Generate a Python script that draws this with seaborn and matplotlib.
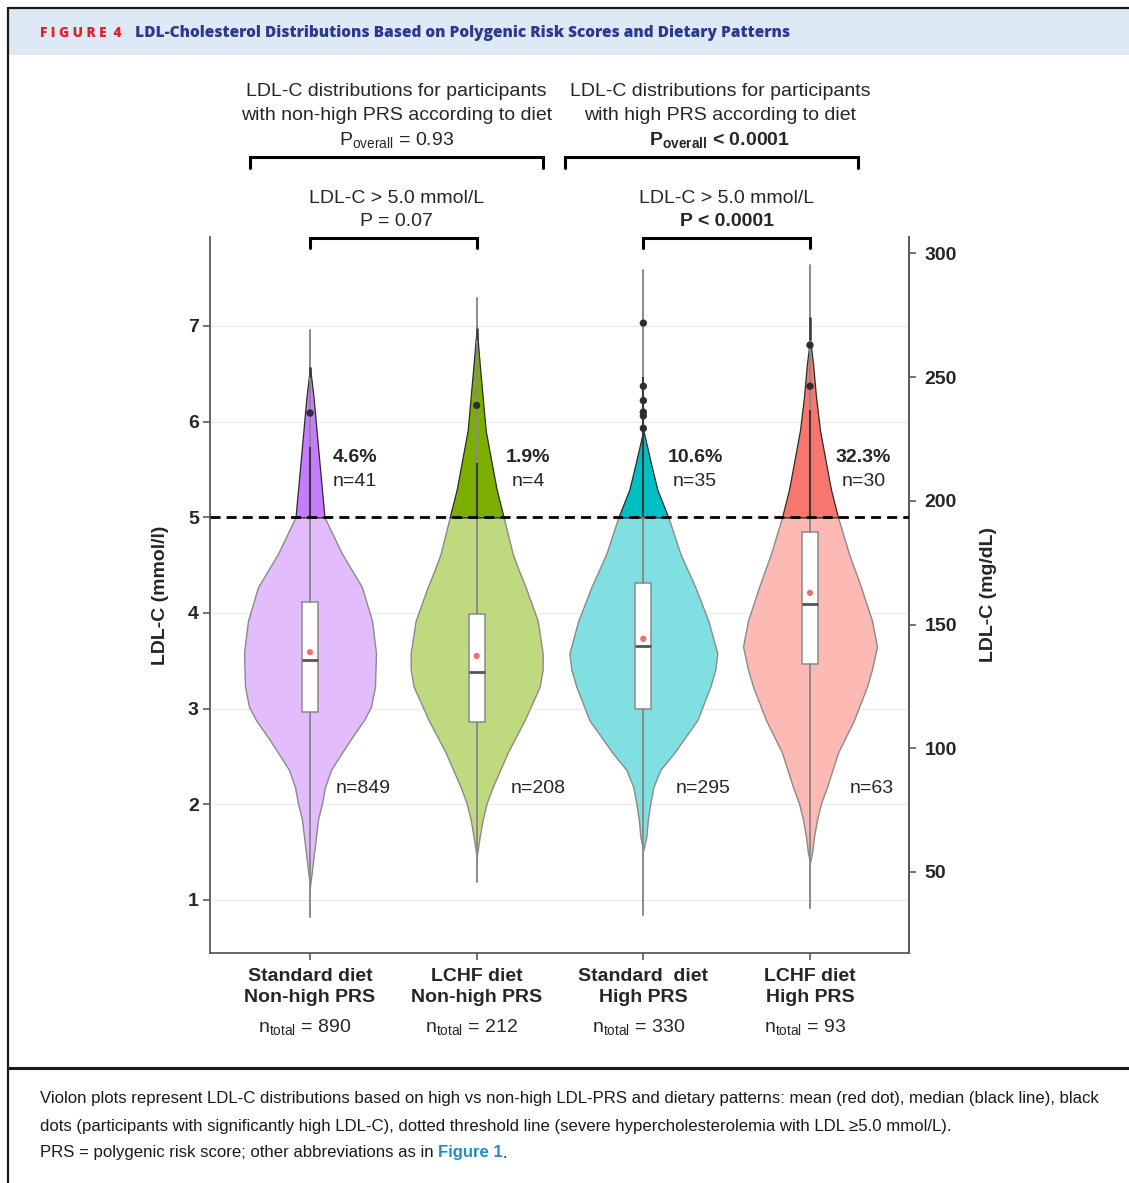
import numpy as np
import pandas as pd
import matplotlib
matplotlib.use("Agg")
import matplotlib.pyplot as plt
from matplotlib.lines import Line2D
from matplotlib.patches import Rectangle
import seaborn as sns

# ---------------- data ----------------
groups = ["Standard diet\nNon-high PRS", "LCHF diet\nNon-high PRS",
          "Standard  diet\nHigh PRS", "LCHF diet\nHigh PRS"]
n_total = [890, 212, 330, 93]
n_below = [849, 208, 295, 63]
n_above = [41, 4, 35, 30]
pct_above = ["4.6%", "1.9%", "10.6%", "32.3%"]

# violin outlines: LDL-C level (mmol/L) and half-width (pixels in reference)
prof_y_0 = [6.57, 6.26, 6.09, 5.74, 5.0, 4.62, 4.27, 3.92, 3.58, 3.23, 3.02, 2.88, 2.70, 2.54, 2.36, 2.18, 2.01, 1.84, 1.66, 1.49, 1.31, 1.14]
prof_w_0 = [0, 3.5, 5, 8, 14.5, 32, 52, 62, 66, 65, 61, 54, 42, 32, 21, 15, 12, 8, 6, 4, 2, 0]
prof_y_1 = [6.98, 6.61, 5.91, 5.57, 5.29, 5.0, 4.62, 4.45, 4.27, 3.92, 3.58, 3.41, 3.23, 2.88, 2.54, 2.18, 2.01, 1.84, 1.66, 1.45]
prof_w_1 = [0, 3, 9, 15, 20, 27, 36, 42, 49, 61, 66, 66, 63, 48, 31, 16, 10, 6, 3, 0]
prof_y_2 = [5.91, 5.57, 5.29, 5.0, 4.62, 4.27, 3.92, 3.58, 3.41, 3.23, 2.88, 2.54, 2.36, 2.18, 2.01, 1.84, 1.66, 1.52]
prof_w_2 = [0, 7.5, 14, 25, 37, 52, 65, 74, 72, 67, 54, 31, 17, 10, 7, 4.5, 3, 0]
prof_y_3 = [6.87, 6.61, 6.26, 5.91, 5.57, 5.29, 5.0, 4.62, 4.27, 3.92, 3.65, 3.41, 3.23, 2.88, 2.54, 2.18, 2.01, 1.84, 1.66, 1.49, 1.39]
prof_w_3 = [0, 3, 6, 10, 16, 21, 28, 39, 51, 62, 67, 62, 57, 44, 28, 17, 11, 7, 4, 2, 0]
prof_y = [prof_y_0, prof_y_1, prof_y_2, prof_y_3]
prof_w = [prof_w_0, prof_w_1, prof_w_2, prof_w_3]

# box statistics (mmol/L)
q1 = [2.97, 2.86, 3.00, 3.47]
median = [3.51, 3.38, 3.66, 4.09]
q3 = [4.11, 3.99, 4.31, 4.85]
mean = [3.59, 3.55, 3.73, 4.21]
whisk_lo = [0.82, 1.19, 0.84, 0.92]
whisk_hi = [6.96, 7.29, 7.59, 7.64]
# whiskers of the >5 mmol/L subset
sub_lo_top = [5.74, 5.57, 6.47, 6.12]
sub_hi_lo = [6.47, 6.85, 6.47, 6.85]
sub_hi_hi = [6.57, 6.98, 6.47, 7.09]

# black dots (participants with significantly high LDL-C)
dot_group = [0, 1, 2, 2, 2, 2, 2, 2, 3, 3]
dot_ldl = [6.09, 6.17, 7.03, 6.37, 6.22, 6.10, 6.06, 5.93, 6.80, 6.37]

threshold = 5.0
mg_ticks = [50, 100, 150, 200, 250, 300]
mmol_ticks = [1, 2, 3, 4, 5, 6, 7]

# ---------------- style ----------------
sns.set_theme(style="white")
plt.rcParams["font.family"] = ["Liberation Sans", "DejaVu Sans"]
plt.rcParams["mathtext.fontset"] = "custom"
plt.rcParams["mathtext.rm"] = "Liberation Sans"
plt.rcParams["mathtext.bf"] = "Liberation Sans:bold"
plt.rcParams["mathtext.it"] = "Liberation Sans:italic"

col_dark = ["#C77CFF", "#7CAE00", "#00BFC4", "#F8766D"]
col_light = ["#E2BCFD", "#BFDA7E", "#7FDFE1", "#FDB9B3"]
PX_PER_CAT = 166.7
W, H = 1129, 1183
pct_dx = [0.27, 0.31, 0.31, 0.32]
nlow_dx = [0.32, 0.37, 0.36, 0.37]

fig = plt.figure(figsize=(W / 100, H / 100), dpi=100)
fig.patch.set_facecolor("white")


def fx(px):
    return px / W


def fy(py):
    return 1 - py / H


# frame and header
fig.add_artist(Rectangle((fx(8), fy(55)), 1 - fx(8), fy(9) - fy(55),
                         facecolor="#dde9f5", edgecolor="none", transform=fig.transFigure))
fig.add_artist(Line2D([fx(8), 1], [fy(8), fy(8)], color="#1a1a1a", lw=1.6, transform=fig.transFigure))
fig.add_artist(Line2D([fx(8), fx(8)], [fy(8), 0], color="#1a1a1a", lw=1.6, transform=fig.transFigure))
fig.add_artist(Line2D([fx(8), 1], [fy(1068), fy(1068)], color="#1a1a1a", lw=2.2, transform=fig.transFigure))

t_fig = fig.text(fx(40), fy(33), "F I G U R E  4", color="#e3202e", fontsize=10.5,
                 fontweight="heavy", family=["Open Sans", "DejaVu Sans"], va="center", ha="left")
t_title = fig.text(fx(135), fy(33), "LDL-Cholesterol Distributions Based on Polygenic Risk Scores and Dietary Patterns",
                   color="#2b3990", fontsize=11, fontweight="heavy", family=["Open Sans", "DejaVu Sans"],
                   va="center", ha="left")

# ---------------- axes ----------------
ax = fig.add_axes([fx(210), fy(953), fx(909) - fx(210), fy(237) - fy(953)])
ax.set_facecolor("white")
ax.set_xlim(-0.6, 3.594)
ax.set_ylim(0.446, 7.93)
ax.yaxis.grid(True, color="#ededed", lw=1)
ax.set_axisbelow(True)
ax.spines["top"].set_visible(False)
for s in ["left", "bottom", "right"]:
    ax.spines[s].set_color("#5a5a5a")
    ax.spines[s].set_linewidth(1.3)

for i in range(4):
    y = np.array(prof_y[i])
    w = np.array(prof_w[i]) / PX_PER_CAT
    lo = y <= threshold
    up = y >= threshold
    ax.fill_betweenx(y[lo], i - w[lo], i + w[lo], facecolor=col_light[i],
                     edgecolor="#8a8a8a", lw=1.0, zorder=2)
    ax.fill_betweenx(y[up], i - w[up], i + w[up], facecolor=col_dark[i],
                     edgecolor="#2b2b2b", lw=0.9, zorder=2)

# whiskers + boxes
stats = [dict(med=median[i], q1=q1[i], q3=q3[i], whislo=whisk_lo[i], whishi=whisk_hi[i], fliers=[])
         for i in range(4)]
ax.bxp(stats, positions=list(range(4)), widths=16 / PX_PER_CAT, patch_artist=True,
       showcaps=False, showfliers=False, manage_ticks=False,
       boxprops=dict(facecolor="white", edgecolor="#8a8a8a", lw=1.1),
       medianprops=dict(color="#555555", lw=2.0),
       whiskerprops=dict(color="#8a8a8a", lw=1.4), zorder=3)
ax.vlines(range(4), [threshold] * 4, sub_lo_top, color="#3a3a3a", lw=1.5, zorder=3)
ax.vlines(range(4), sub_hi_lo, sub_hi_hi, color="#3a3a3a", lw=1.8, zorder=3)

# threshold line
ax.axhline(threshold, color="black", lw=2.0, ls=(0, (3.6, 2.2)), zorder=6)

# dots
df_dots = pd.DataFrame({"group": dot_group, "ldl": dot_ldl})
sns.scatterplot(data=df_dots, x="group", y="ldl", color="#2e2e2e", s=28, edgecolor="none",
                ax=ax, zorder=5, legend=False)
df_mean = pd.DataFrame({"group": range(4), "ldl": mean})
sns.scatterplot(data=df_mean, x="group", y="ldl", color="#f26d6d", s=20, edgecolor="none",
                ax=ax, zorder=5, legend=False)

# annotations inside plot
for i in range(4):
    ax.text(i + pct_dx[i], 5.62, pct_above[i], fontsize=14, fontweight="bold", ha="center", va="center", zorder=7)
    ax.text(i + pct_dx[i], 5.37, f"n={n_above[i]}", fontsize=14, ha="center", va="center", zorder=7)
    ax.text(i + nlow_dx[i], 2.17, f"n={n_below[i]}", fontsize=14, ha="center", va="center", zorder=7)

# axes ticks/labels
ax.set_xlabel("")
ax.set_ylabel("LDL-C (mmol/l)", fontsize=14, fontweight="bold", labelpad=14)
ax.set_yticks(mmol_ticks, [str(t) for t in mmol_ticks], fontsize=14, fontweight="bold")
ax.set_xticks(range(4), groups, fontsize=14, fontweight="bold", linespacing=1.3)
ax.tick_params(axis="x", length=5, width=1.2, color="#5a5a5a", pad=6, bottom=True)
ax.tick_params(axis="y", length=5, width=1.2, color="#5a5a5a", pad=3, left=True)
for i in range(4):
    ax.text(i - 0.03, -0.103, r"n$_{\mathrm{total}}$ = " + str(n_total[i]), fontsize=14,
            ha="center", va="center", transform=ax.get_xaxis_transform())

secax = ax.secondary_yaxis("right", functions=(lambda v: v * 38.67, lambda v: v / 38.67))
secax.set_yticks(mg_ticks, [str(t) for t in mg_ticks], fontsize=14, fontweight="bold")
secax.tick_params(axis="y", length=5, width=1.2, color="#5a5a5a", pad=6, right=True)
secax.spines["right"].set_color("#5a5a5a")
secax.spines["right"].set_linewidth(1.3)
secax.set_ylabel("LDL-C (mg/dL)", fontsize=14, fontweight="bold", labelpad=17)

# top annotations and brackets (x in category units, y in mmol units above the panel)
def bracket(x0, x1, y, drop):
    ax.plot([x0, x0, x1, x1], [y - drop, y, y, y - drop], color="black", lw=2.2,
            clip_on=False, solid_joinstyle="miter", zorder=7)


bracket(-0.36, 1.40, 8.77, 0.12)
bracket(1.53, 3.29, 8.77, 0.12)
bracket(0.0, 1.0, 7.92, 0.11)
bracket(2.0, 3.0, 7.92, 0.11)

txt = dict(fontsize=14, ha="center", va="center", clip_on=False)
ax.text(0.52, 9.45, "LDL-C distributions for participants", **txt)
ax.text(0.52, 9.20, "with non-high PRS according to diet", **txt)
ax.text(0.52, 8.94, r"P$_{\mathrm{overall}}$ = 0.93", **txt)
ax.text(2.46, 9.45, "LDL-C distributions for participants", **txt)
ax.text(2.46, 9.20, "with high PRS according to diet", **txt)
ax.text(2.46, 8.94, r"$\mathbf{P_{overall}}$ < 0.0001", fontweight="bold", **txt)
ax.text(0.52, 8.33, "LDL-C > 5.0 mmol/L", **txt)
ax.text(0.52, 8.09, "P = 0.07", **txt)
ax.text(2.50, 8.33, "LDL-C > 5.0 mmol/L", **txt)
ax.text(2.50, 8.09, "P < 0.0001", fontweight="bold", **txt)

# caption
cap_font = ["Liberation Sans Narrow", "Liberation Sans", "DejaVu Sans"]
cap1 = "Violon plots represent LDL-C distributions based on high vs non-high LDL-PRS and dietary patterns: mean (red dot), median (black line), black"
cap2 = "dots (participants with significantly high LDL-C), dotted threshold line (severe hypercholesterolemia with LDL \u22655.0 mmol/L)."
cap3a = "PRS = polygenic risk score; other abbreviations as in "
t1 = fig.text(fx(40), fy(1099), cap1, fontsize=12, family=cap_font, va="center", ha="left", color="#1a1a1a")
t2 = fig.text(fx(40), fy(1126), cap2, fontsize=12, family=cap_font, va="center", ha="left", color="#1a1a1a")
t3 = fig.text(fx(40), fy(1153), cap3a, fontsize=12, family=cap_font, va="center", ha="left", color="#1a1a1a")

fig.canvas.draw()
r = fig.canvas.get_renderer()
# fit caption and header widths to the reference
w1 = t1.get_window_extent(r).width
scale = 1057 / w1
for t in (t1, t2, t3):
    t.set_fontsize(12 * scale)
wt = t_title.get_window_extent(r).width
t_title.set_fontsize(11 * 655 / wt)
wf = t_fig.get_window_extent(r).width
t_fig.set_fontsize(10.5 * 82 / wf)
fig.canvas.draw()
bb = t3.get_window_extent(r)
t4 = fig.text(bb.x1 / W, fy(1153), "Figure 1", fontsize=12 * scale, family=cap_font,
              fontweight="bold", color="#1f8dc6", va="center", ha="left")
fig.canvas.draw()
bb4 = t4.get_window_extent(r)
fig.text(bb4.x1 / W, fy(1153), ".", fontsize=12 * scale, family=cap_font, va="center", ha="left", color="#1a1a1a")

fig.savefig("out.png", dpi=100)
